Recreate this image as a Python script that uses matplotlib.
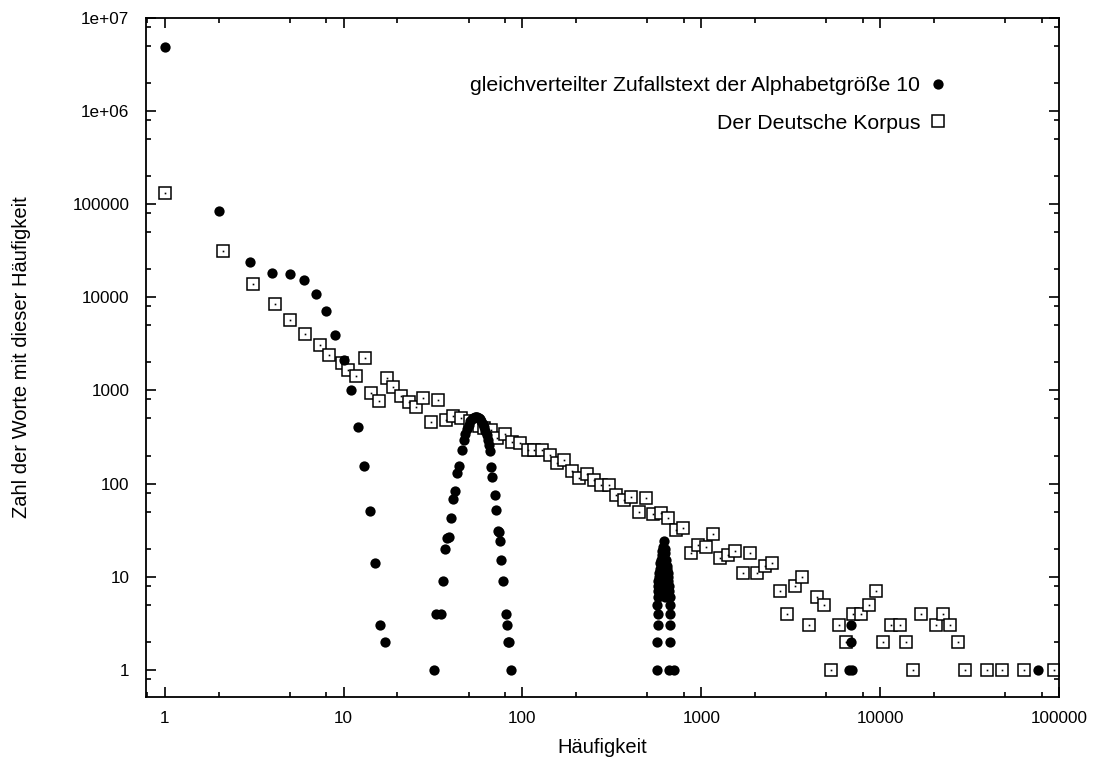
import numpy as np
import matplotlib
matplotlib.use("Agg")
import matplotlib.pyplot as plt
from matplotlib.ticker import FixedLocator, NullFormatter

plt.rcParams['font.family'] = ['Liberation Sans', 'DejaVu Sans']

# word frequency spectrum: uniform random text, alphabet size 10
rand_x = [1, 2, 3, 4, 5, 6, 7, 8, 9, 10, 11, 12, 13, 14, 15, 16, 17,
          32, 33, 35, 36, 37, 38, 39, 40, 41, 42, 43, 44, 46, 47, 48, 49, 50,
          51, 52, 53, 54, 55, 56, 57, 58, 59, 60, 61, 62, 63, 64, 65, 66, 67,
          68, 70, 71, 73, 74, 75, 76, 78, 81, 82, 83, 84, 86,
          617, 610, 625, 600, 630, 605, 620, 595, 635, 590, 640, 600, 585, 645,
          615, 580, 650, 625, 578, 652, 610, 575, 655, 590, 640, 572, 660, 575,
          600, 660, 570, 665, 625, 568, 665, 573, 672, 572, 668, 565, 665, 566,
          660, 700,
          6700, 6850, 6850, 6950, 76000]
rand_y = [4.9e6, 85000, 24000, 18200, 17800, 15200, 10900, 7200, 3960, 2140,
          1000, 405, 153, 51, 14, 3, 2,
          1, 4, 4, 9, 20, 26, 27, 43, 69, 84, 130, 153, 231, 296, 340, 390, 430,
          465, 490, 505, 515, 520, 518, 510, 495, 470, 440, 405, 370, 330, 295,
          260, 221, 149, 119, 76, 52, 31, 30, 24, 15, 9, 4, 3, 2, 2, 1,
          24, 21, 20, 19, 18, 17, 16, 15, 15, 14, 13, 13, 12, 12, 12, 11, 11, 11,
          10, 10, 10, 9, 9, 9, 8, 8, 8, 7, 7, 7, 6, 6, 6, 5, 5, 4, 4, 3, 3, 2, 2,
          1, 1, 1,
          1, 3, 2, 1, 1]

# word frequency spectrum of the German corpus
corpus_x = [1, 2.12, 3.1, 4.13, 5.01, 6.06, 7.35, 8.3, 9.76, 10.6, 11.8, 13.1,
            14.2, 15.7, 17.4, 19.0, 20.9, 23.1, 25.3, 27.9, 30.7, 33.8, 37.3,
            41.0, 45.3, 51, 57, 61, 66.6, 72, 79.4, 87.3, 96.3, 107, 116.5,
            128.5, 142, 156, 171, 189, 208, 229, 251, 276, 305, 335, 368, 405,
            447, 489, 538, 596, 653, 720, 795, 871, 955, 1056, 1158, 1270, 1402,
            1541, 1702, 1871, 2056, 2260, 2495, 2754, 3013, 3327, 3655, 4000,
            4415, 4850, 5330, 5888, 6410, 7080, 7850, 8630, 9490, 10420, 11500,
            12840, 13900, 15280, 16870, 20400, 22500, 24600, 27100, 29900,
            39700, 48200, 64000, 93400]
corpus_y = [133000, 31100, 14000, 8470, 5650, 4060, 3100, 2420, 1995, 1640,
            1440, 2230, 937, 774, 1360, 1095, 862, 750, 663, 829, 461, 795, 484,
            535, 500, 470, 420, 395, 378, 305, 343, 279, 272, 227, 231, 231, 202,
            166, 180, 135, 115, 127, 110, 96, 96, 76, 66, 72, 50, 70, 47, 48, 43,
            32, 33, 18, 22, 21, 29, 16, 17, 19, 11, 18, 11, 13, 14, 7, 4, 8, 10,
            3, 6, 5, 1, 3, 2, 4, 4, 5, 7, 2, 3, 3, 2, 1, 4, 3, 4, 3, 2, 1, 1, 1,
            1, 1]

label_rand = "gleichverteilter Zufallstext der Alphabetgröße 10"
label_corpus = "Der Deutsche Korpus"

fig = plt.figure(figsize=(10.99, 7.61), dpi=100)
ax = fig.add_axes([0.1328, 0.0841, 0.8308, 0.8922])

ax.set_xscale('log')
ax.set_yscale('log')

sq, = ax.plot(corpus_x, corpus_y, linestyle='none', marker='s', markersize=8.2,
              markerfacecolor='white', markeredgecolor='black',
              markeredgewidth=1.1, zorder=2)
ax.plot(corpus_x, corpus_y, linestyle='none', marker='s', markersize=1.2,
        markerfacecolor='black', markeredgewidth=0, zorder=2.1)
dots, = ax.plot(rand_x, rand_y, linestyle='none', marker='o', markersize=7.4,
                markerfacecolor='black', markeredgecolor='black',
                markeredgewidth=0, zorder=3)

ax.set_xlim(0.785, 100000)
ax.set_ylim(0.51, 1e7)

# gnuplot-style minor tics at 2, 5 and 8 of each decade
minor = [m * 10.0 ** e for e in range(-1, 7) for m in (2, 5, 8)]
ax.xaxis.set_minor_locator(FixedLocator(minor))
ax.yaxis.set_minor_locator(FixedLocator(minor))
ax.xaxis.set_minor_formatter(NullFormatter())
ax.yaxis.set_minor_formatter(NullFormatter())
ax.set_xticks([1, 10, 100, 1000, 10000, 100000])
ax.set_xticklabels(['1', '10', '100', '1000', '10000', '100000'])
ax.set_yticks([1, 10, 100, 1000, 1e4, 1e5, 1e6, 1e7])
ax.set_yticklabels(['1', '10', '100', '1000', '10000', '100000', '1e+06', '1e+07'])

ax.tick_params(which='both', direction='in', top=True, right=True,
               labelsize=12.3, width=1.2, colors='black')
ax.tick_params(which='major', length=7, pad=10)
ax.tick_params(which='minor', length=3.5)
ax.tick_params(axis='y', which='major', pad=12)
for s in ax.spines.values():
    s.set_linewidth(1.3)

ax.set_xlabel("Häufigkeit", fontsize=14.5, labelpad=9)
ax.set_ylabel("Zahl der Worte mit dieser Häufigkeit", fontsize=14.5, labelpad=30)

ax.legend([dots, sq], [label_rand, label_corpus], loc='upper right',
          bbox_to_anchor=(0.883, 0.927), frameon=False, markerfirst=False,
          fontsize=15.3, handlelength=0.5, handletextpad=0.6, labelspacing=0.88,
          borderaxespad=0)

fig.savefig("out.png", dpi=100)
